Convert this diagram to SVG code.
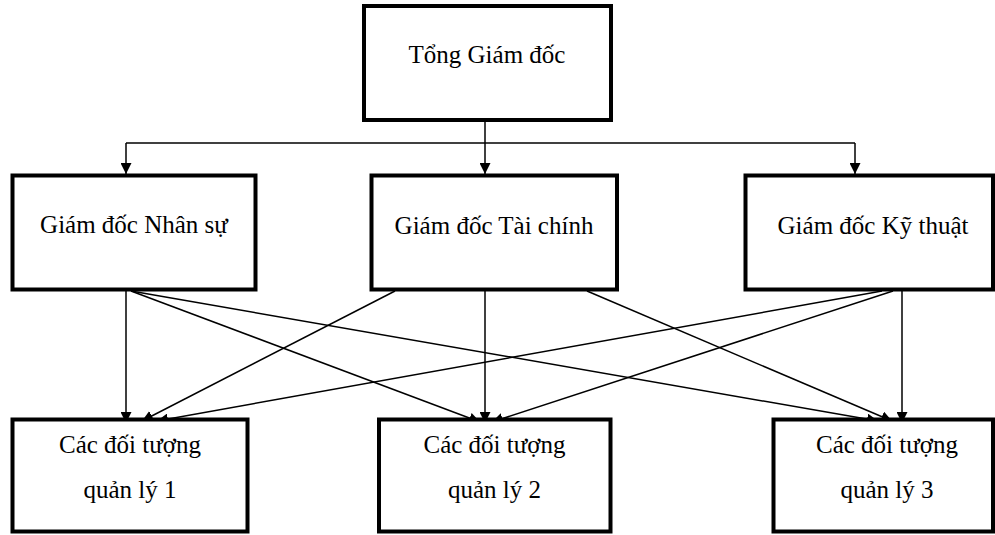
<svg xmlns="http://www.w3.org/2000/svg" width="995" height="535" viewBox="0 0 995 535">
<style>
.box{fill:#fff;stroke:#000;stroke-width:4}
.t{font-family:"Liberation Serif","Times New Roman",serif;font-size:25px;fill:#000;text-anchor:middle}
.c{fill:none;stroke:#000;stroke-width:1.5}
</style>
<defs>
<marker id="ah" viewBox="0 0 10 10" refX="10" refY="5" markerWidth="11" markerHeight="11" markerUnits="userSpaceOnUse" orient="auto">
<path d="M0,0 L10,5 L0,10 z" fill="#000"/>
</marker>
</defs>
<rect width="995" height="535" fill="#fff"/>
<g id="connectors">
<path class="c" d="M485,122 V174" marker-end="url(#ah)"/>
<path class="c" d="M126,143 H855"/>
<path class="c" d="M126,143 V174" marker-end="url(#ah)"/>
<path class="c" d="M855,143 V174" marker-end="url(#ah)"/>
<path class="c" d="M126,291 V423" marker-end="url(#ah)"/>
<path class="c" d="M131,291 L480,422" marker-end="url(#ah)"/>
<path class="c" d="M131,291 L878,421" marker-end="url(#ah)"/>
<path class="c" d="M395,291 L142,421" marker-end="url(#ah)"/>
<path class="c" d="M485,291 V423" marker-end="url(#ah)"/>
<path class="c" d="M587,291 L892,421" marker-end="url(#ah)"/>
<path class="c" d="M882,291 L157,421" marker-end="url(#ah)"/>
<path class="c" d="M893,291 L492,422" marker-end="url(#ah)"/>
<path class="c" d="M902,291 V423" marker-end="url(#ah)"/>
</g>
<g id="tong-giam-doc">
<rect class="box" x="364" y="6" width="247" height="114"/>
<text class="t" x="487" y="63">Tổng Giám đốc</text>
</g>
<g id="gd-nhan-su">
<rect class="box" x="12.5" y="175.5" width="243" height="114"/>
<text class="t" x="134" y="233">Giám đốc Nhân sự</text>
</g>
<g id="gd-tai-chinh">
<rect class="box" x="371.5" y="175.5" width="245.5" height="114"/>
<text class="t" x="494" y="234">Giám đốc Tài chính</text>
</g>
<g id="gd-ky-thuat">
<rect class="box" x="745.5" y="175.5" width="247.5" height="114"/>
<text class="t" x="873" y="234">Giám đốc Kỹ thuật</text>
</g>
<g id="dt-1">
<rect class="box" x="12.5" y="419.5" width="235" height="112"/>
<text class="t" x="130" y="453">Các đối tượng</text>
<text class="t" x="130" y="498">quản lý 1</text>
</g>
<g id="dt-2">
<rect class="box" x="379" y="419.5" width="231.5" height="112"/>
<text class="t" x="494.5" y="453">Các đối tượng</text>
<text class="t" x="494.5" y="498">quản lý 2</text>
</g>
<g id="dt-3">
<rect class="box" x="773.5" y="419.5" width="219.5" height="112"/>
<text class="t" x="887" y="453">Các đối tượng</text>
<text class="t" x="887" y="498">quản lý 3</text>
</g>
</svg>
